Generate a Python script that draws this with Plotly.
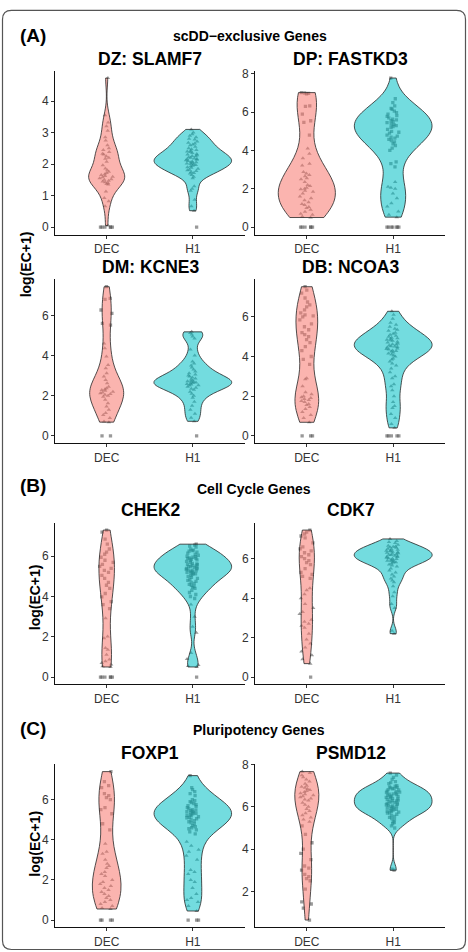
import numpy as np
import plotly.graph_objects as go

W, H = 468, 952
CATS = ["DEC", "H1"]

# ---------------- data (log(EC+1)) ----------------
# (A) scDD-exclusive genes
DZ_DEC_TRI = [4.73, 3.55, 3.32, 3.2, 3.06, 2.85, 2.75, 2.6, 2.5, 2.45, 2.38, 2.33, 2.3, 2.25, 2.2, 2.17, 2.07, 1.96,
              1.86, 1.8, 1.76, 1.72, 1.68, 1.65, 1.62, 1.6, 1.58, 1.55, 1.52, 1.5, 1.47, 1.45, 1.42, 1.4, 1.37, 1.35,
              1.13, 0.92, 0.82, 0.66, 0.05]
DZ_DEC_SQ = []
DZ_DEC_ZERO = [0, 0, 0, 0, 0, 0]
DZ_H1_TRI = [3.1, 3.0, 2.95, 2.9, 2.85, 2.8, 2.78, 2.72, 2.68, 2.65, 2.62, 2.6, 2.55, 2.5, 2.47, 2.45, 2.42, 2.4, 2.38,
             2.35, 2.32, 2.3, 2.28, 2.26, 2.25, 2.22, 2.2, 2.18, 2.16, 2.15, 2.14, 2.12, 2.1, 2.08, 2.06, 2.05, 2.04,
             2.02, 2.0, 1.99, 1.97, 1.95, 1.93, 1.9, 1.88, 1.85, 1.82, 1.8, 1.78, 1.75, 1.72, 1.7, 1.65, 1.6, 1.55,
             1.3, 1.22, 1.15, 0.87, 0.66, 0.52]
DZ_H1_SQ = []
DZ_H1_ZERO = [0]

DP_DEC_SQ = [7.02, 7.0, 6.98, 6.95, 6.33, 6.3, 5.9, 5.55, 5.47, 4.8]
DP_DEC_TRI = [4.1, 3.83, 3.6, 3.3, 3.22, 2.88, 2.8, 2.72, 2.65, 2.55, 2.5, 2.35, 2.2, 2.15, 2.05, 2.0, 1.98, 1.9,
              1.85, 1.75, 1.6, 1.5, 1.4, 1.3, 1.2, 1.15, 1.05, 1.0, 0.9, 0.8, 0.7, 0.64, 0.55, 0.5]
DP_DEC_ZERO = [0, 0, 0, 0, 0, 0]
DP_H1_SQ = [7.78, 6.7, 6.5, 6.33, 6.2, 6.15, 6.05, 5.98, 5.9, 5.82, 5.78, 5.7, 5.64, 5.6, 5.55, 5.5, 5.45, 5.38, 5.35,
            5.3, 5.25, 5.2, 5.1, 5.0, 4.95, 4.9, 4.8, 4.75, 4.69, 4.64, 4.58, 4.52, 4.45, 4.35, 4.26, 4.12, 4.0, 3.4,
            3.31, 3.14]
DP_H1_TRI = [2.36, 2.1, 2.05, 2.0, 1.76, 1.5, 1.24, 1.07, 0.81, 0.64, 0.52]
DP_H1_ZERO = [0, 0, 0, 0, 0, 0, 0]

DM_DEC_SQ = [7.43, 6.85, 6.8, 6.27, 6.1, 5.6, 5.52]
DM_DEC_TRI = [4.6, 4.36, 3.95, 3.53, 3.36, 3.12, 2.95, 2.78, 2.62, 2.45, 2.37, 2.32, 2.28, 2.25, 2.2, 2.16, 2.12, 2.08,
              2.04, 2.0, 1.95, 1.79, 1.62, 1.46, 1.3, 1.13, 1.04, 0.88, 0.71, 0.68]
DM_DEC_ZERO = [0, 0]
DM_H1_TRI = [5.18, 5.12, 5.05, 4.95, 4.85, 4.3, 4.0, 3.7, 3.6, 3.5, 3.4, 3.3, 3.2, 3.12, 3.05, 3.0, 2.95, 2.9, 2.85,
             2.8, 2.76, 2.72, 2.7, 2.68, 2.65, 2.63, 2.6, 2.58, 2.55, 2.52, 2.5, 2.45, 2.4, 2.35, 2.3, 2.2, 2.1, 2.0,
             1.9, 1.7, 1.5, 1.3, 1.1, 0.9, 0.72]
DM_H1_SQ = []
DM_H1_ZERO = [0]

DB_DEC_SQ = [7.52, 7.35, 7.2, 6.95, 6.75, 6.6, 6.5, 6.35, 6.2, 6.1, 6.05, 6.0, 5.85, 5.65, 5.5, 5.35, 5.2, 5.1, 5.0,
             4.85, 4.7, 4.5, 4.3, 4.0, 3.85, 3.6]
DB_DEC_TRI = [2.9, 2.85, 2.5, 2.2, 2.1, 2.0, 1.95, 1.9, 1.85, 1.8, 1.75, 1.7, 1.6, 1.55, 1.45, 1.35, 1.2, 1.05, 0.9,
              0.68]
DB_DEC_ZERO = [0, 0, 0]
DB_H1_TRI = [6.28, 6.1, 5.9, 5.7, 5.6, 5.5, 5.4, 5.35, 5.3, 5.2, 5.15, 5.1, 5.05, 5.0, 4.95, 4.92, 4.9, 4.85, 4.82,
             4.8, 4.75, 4.7, 4.65, 4.62, 4.6, 4.55, 4.52, 4.5, 4.48, 4.45, 4.4, 4.38, 4.35, 4.3, 4.28, 4.25, 4.2, 4.15,
             4.1, 4.05, 4.0, 3.9, 3.85, 3.75, 3.65, 3.55, 3.4, 3.2, 3.0, 2.9, 2.6, 2.5, 2.3, 2.0, 1.7, 1.5, 1.4, 1.1,
             0.9, 0.6, 0.4]
DB_H1_SQ = []
DB_H1_ZERO = [0, 0, 0, 0, 0]

# (B) cell cycle genes
CHEK2_DEC_SQ = [7.3, 7.2, 6.85, 6.6, 6.36, 6.2, 6.1, 5.95, 5.8, 5.7, 5.6, 5.5, 5.4, 5.3, 5.2, 5.05, 4.9, 4.7, 4.56,
                4.4, 4.15, 3.98, 3.75, 3.6, 3.4]
CHEK2_DEC_TRI = [2.92, 2.02, 1.93, 1.44, 1.36, 1.11, 0.87, 0.79, 0.7, 0.62, 0.54, 0.5]
CHEK2_DEC_ZERO = [0, 0, 0, 0, 0, 0]
CHEK2_H1_SQ = [6.6, 6.55, 6.5, 6.45, 6.35, 6.3, 6.28, 6.25, 6.2, 6.15, 6.1, 6.05, 6.0, 5.98, 5.95, 5.92, 5.9, 5.88,
               5.85, 5.82, 5.8, 5.75, 5.7, 5.65, 5.62, 5.6, 5.58, 5.55, 5.52, 5.5, 5.48, 5.45, 5.42, 5.4, 5.38, 5.35,
               5.32, 5.3, 5.28, 5.25, 5.22, 5.2, 5.18, 5.15, 5.12, 5.1, 5.05, 5.0, 4.95, 4.9, 4.85, 4.8, 4.75, 4.7,
               4.65, 4.6, 4.55, 4.5, 4.45, 4.4, 4.3, 4.2, 4.1, 4.0, 3.9]
CHEK2_H1_TRI = [3.6, 3.0, 2.5, 2.2, 1.2, 0.9, 0.6, 0.55, 0.5]
CHEK2_H1_ZERO = [0]

CDK7_DEC_SQ = [7.45, 7.35, 7.25, 7.15, 7.05, 6.8, 6.6, 6.5, 6.4, 6.3, 6.2, 6.1, 6.0, 5.9, 5.8, 5.7, 5.5, 5.3, 5.2,
               5.1, 5.0]
CDK7_DEC_TRI = [4.5, 4.4, 4.2, 4.0, 3.7, 3.5, 3.3, 3.2, 2.9, 2.8, 2.7, 2.6, 2.5, 2.2, 1.9, 1.7, 1.5, 1.3, 1.1, 0.9,
                0.68]
CDK7_DEC_ZERO = [0]
CDK7_H1_TRI = [7.0, 6.9, 6.85, 6.8, 6.7, 6.65, 6.62, 6.6, 6.58, 6.55, 6.5, 6.48, 6.45, 6.42, 6.4, 6.38, 6.35, 6.32,
               6.3, 6.28, 6.25, 6.22, 6.2, 6.18, 6.15, 6.12, 6.1, 6.08, 6.05, 6.02, 6.0, 5.98, 5.95, 5.92, 5.9, 5.88,
               5.85, 5.82, 5.8, 5.75, 5.7, 5.65, 5.6, 5.5, 5.4, 5.3, 5.2, 5.1, 5.0, 4.9, 4.8, 4.6, 4.3, 4.1, 3.7, 3.5,
               2.35, 2.2]
CDK7_H1_SQ = []
CDK7_H1_ZERO = []

# (C) pluripotency genes
FOXP1_DEC_SQ = [7.4, 6.9, 6.7, 6.6, 6.3, 6.2, 6.1, 6.0, 5.6, 5.5, 5.3, 4.8, 4.5]
FOXP1_DEC_TRI = [3.8, 3.4, 3.3, 3.0, 2.8, 2.7, 2.6, 2.4, 2.3, 2.2, 2.0, 1.9, 1.8, 1.7, 1.6, 1.5, 1.4, 1.3, 1.2, 1.1,
                 1.0, 0.9, 0.8, 0.7, 0.6, 0.55]
FOXP1_DEC_ZERO = [0, 0, 0, 0]
FOXP1_H1_SQ = [7.2, 6.6, 6.5, 6.4, 6.3, 6.2, 6.0, 5.95, 5.9, 5.85, 5.8, 5.75, 5.7, 5.65, 5.6, 5.55, 5.5, 5.48, 5.45,
               5.42, 5.4, 5.38, 5.35, 5.32, 5.3, 5.25, 5.22, 5.2, 5.15, 5.12, 5.1, 5.05, 5.0, 4.95, 4.9, 4.85, 4.8,
               4.7, 4.65, 4.6, 4.55, 4.5, 4.4, 4.3]
FOXP1_H1_TRI = [3.9, 3.7, 3.5, 3.4, 3.2, 3.0, 2.5, 2.4, 2.3, 2.0, 1.9, 1.6, 1.3, 1.1, 1.0, 0.9, 0.7, 0.45]
FOXP1_H1_ZERO = [0, 0, 0]

PSMD12_DEC_TRI = [7.67, 7.6, 7.5, 7.4, 7.3, 7.2, 7.1, 7.0, 6.95, 6.9, 6.85, 6.8, 6.75, 6.7, 6.65, 6.6, 6.55, 6.5,
                  6.45, 6.4, 6.35, 6.3, 6.2, 6.1, 6.0, 5.9, 5.8, 5.7, 5.6, 5.5, 5.4, 5.3]
PSMD12_DEC_SQ = [5.1, 4.7, 4.3, 4.0, 3.8, 3.5, 3.2, 3.1, 3.0, 2.8, 2.7, 2.6, 2.5, 2.1, 1.5, 1.4, 1.2, 0.64]
PSMD12_DEC_ZERO = []
PSMD12_H1_SQ = [7.6, 7.5, 7.4, 7.3, 7.2, 7.15, 7.1, 7.0, 6.98, 6.95, 6.92, 6.9, 6.88, 6.85, 6.82, 6.8, 6.75, 6.72,
                6.7, 6.68, 6.65, 6.62, 6.6, 6.58, 6.55, 6.52, 6.5, 6.48, 6.45, 6.42, 6.4, 6.38, 6.35, 6.32, 6.3, 6.28,
                6.25, 6.22, 6.2, 6.18, 6.15, 6.12, 6.1, 6.08, 6.05, 6.02, 6.0, 5.98, 5.95, 5.92, 5.9, 5.88, 5.85,
                5.82, 5.8, 5.78, 5.75, 5.72, 5.7, 5.65, 5.6, 5.55, 5.5, 5.45, 5.4, 5.3, 5.25, 5.2, 5.1, 5.0, 3.05,
                3.0]
PSMD12_H1_TRI = []
PSMD12_H1_ZERO = []

PANEL_TITLES = ["DZ: SLAMF7", "DP: FASTKD3", "DM: KCNE3", "DB: NCOA3", "CHEK2", "CDK7", "FOXP1", "PSMD12"]
PANEL_DATA = [
    {"DEC": (DZ_DEC_TRI, DZ_DEC_SQ, DZ_DEC_ZERO), "H1": (DZ_H1_TRI, DZ_H1_SQ, DZ_H1_ZERO)},
    {"DEC": (DP_DEC_TRI, DP_DEC_SQ, DP_DEC_ZERO), "H1": (DP_H1_TRI, DP_H1_SQ, DP_H1_ZERO)},
    {"DEC": (DM_DEC_TRI, DM_DEC_SQ, DM_DEC_ZERO), "H1": (DM_H1_TRI, DM_H1_SQ, DM_H1_ZERO)},
    {"DEC": (DB_DEC_TRI, DB_DEC_SQ, DB_DEC_ZERO), "H1": (DB_H1_TRI, DB_H1_SQ, DB_H1_ZERO)},
    {"DEC": (CHEK2_DEC_TRI, CHEK2_DEC_SQ, CHEK2_DEC_ZERO), "H1": (CHEK2_H1_TRI, CHEK2_H1_SQ, CHEK2_H1_ZERO)},
    {"DEC": (CDK7_DEC_TRI, CDK7_DEC_SQ, CDK7_DEC_ZERO), "H1": (CDK7_H1_TRI, CDK7_H1_SQ, CDK7_H1_ZERO)},
    {"DEC": (FOXP1_DEC_TRI, FOXP1_DEC_SQ, FOXP1_DEC_ZERO), "H1": (FOXP1_H1_TRI, FOXP1_H1_SQ, FOXP1_H1_ZERO)},
    {"DEC": (PSMD12_DEC_TRI, PSMD12_DEC_SQ, PSMD12_DEC_ZERO), "H1": (PSMD12_H1_TRI, PSMD12_H1_SQ, PSMD12_H1_ZERO)},
]
Y_TICKS = [[0, 1, 2, 3, 4], [0, 2, 4, 6, 8], [0, 2, 4, 6], [0, 2, 4, 6],
           [0, 2, 4, 6], [0, 2, 4, 6], [0, 2, 4, 6], [2, 4, 6, 8]]
SECTION_LABELS = ["(A)", "(B)", "(C)"]
SECTION_TITLES = ["scDD\u2212exclusive Genes", "Cell Cycle Genes", "Pluripotency Genes"]
Y_TITLE = "log(EC+1)"

# ---------------- layout (pixel geometry) ----------------
PANEL_BOX = [(55, 244.5, 65, 230), (255, 445, 65, 230),
             (55, 244.5, 275, 440), (255, 445, 275, 440),
             (55, 244.5, 520, 682.7), (255, 445, 520, 682.7),
             (55, 244.5, 763, 927.3), (255, 445, 763, 927.3)]
TITLE_POS = [(150, 53), (350.5, 53), (150, 263), (350.5, 263),
             (150.5, 507), (351, 507), (150, 752), (351, 752)]
LABEL_POS = [(33, 30), (33, 483), (33, 727)]
SECTION_POS = [(250, 30), (254, 486), (259, 729)]
YTITLE_POS = [(26, 260), (35, 595), (35, 843)]

FONT = "Liberation Sans, Arial, Helvetica, sans-serif"
FILL = {"DEC": "rgba(248,118,109,0.55)", "H1": "rgba(0,191,196,0.55)"}
PT_COLOR = "rgba(85,85,85,0.6)"
VIOLIN_WIDTH = 0.9


def nrd0(v):
    """R's default bandwidth (bw.nrd0)."""
    v = np.asarray(v, dtype=float)
    sd = v.std(ddof=1)
    q75, q25 = np.percentile(v, [75, 25])
    lo = min(sd, (q75 - q25) / 1.34)
    if lo <= 0:
        lo = sd if sd > 0 else 0.1
    return 0.9 * lo * len(v) ** (-0.2)


def kde_peak(v, bw):
    """Peak of the gaussian KDE over the (trimmed) data range."""
    v = np.asarray(v, dtype=float)
    g = np.linspace(v.min(), v.max(), 512)
    d = np.exp(-0.5 * ((g[:, None] - v[None, :]) / bw) ** 2).sum(axis=1)
    return d.max() / (len(v) * bw * np.sqrt(2 * np.pi))


fig = go.Figure()
layout = dict()
gid = 0
for i, groups in enumerate(PANEL_DATA):
    ax = "" if i == 0 else str(i + 1)
    xa, ya = "x" + ax, "y" + ax
    allv = []
    # jittered points (drawn first so the translucent violins tint them)
    for cat in CATS:
        tri, sq, zero = groups[cat]
        allv += list(tri) + list(sq) + list(zero)
        for vals, sym, sz in ((zero, "square", 3.3), (tri, "triangle-up", 4.0), (sq, "square", 3.3)):
            if len(vals) == 0:
                continue
            gid += 1
            fig.add_trace(go.Violin(
                x=[cat] * len(vals), y=vals, xaxis=xa, yaxis=ya,
                points="all", pointpos=0, jitter=0.85, width=0.2,
                bandwidth=0.1, spanmode="soft", scalegroup="pts%d" % gid, name="pts%d" % gid,
                fillcolor="rgba(0,0,0,0)", line=dict(width=0, color="rgba(0,0,0,0)"),
                marker=dict(symbol=sym, size=sz, color=PT_COLOR, line=dict(width=0)),
                hoverinfo="skip", showlegend=False))
    # violins of the non-zero values; widths follow ggplot's scale="count" within a panel
    nzs, bws, peaks = {}, {}, {}
    for cat in CATS:
        tri, sq, zero = groups[cat]
        nzs[cat] = list(tri) + list(sq)
        bws[cat] = nrd0(nzs[cat])
        peaks[cat] = kde_peak(nzs[cat], bws[cat]) * len(nzs[cat])
    pmax = max(peaks.values())
    for cat in CATS:
        nz = nzs[cat]
        fig.add_trace(go.Violin(
            x=[cat] * len(nz), y=nz, xaxis=xa, yaxis=ya,
            points=False, width=VIOLIN_WIDTH * peaks[cat] / pmax, spanmode="hard",
            scalegroup="v%d%s" % (i, cat), scalemode="width", name="v%d%s" % (i, cat),
            bandwidth=bws[cat], fillcolor=FILL[cat],
            line=dict(color="#262626", width=0.8),
            hoverinfo="skip", showlegend=False))

    x0, x1, y0, y1 = PANEL_BOX[i]
    lo, hi = min(allv), max(allv)
    pad = 0.05 * (hi - lo)
    layout["xaxis" + ax] = dict(
        domain=[x0 / W, x1 / W], anchor=ya, type="category",
        categoryorder="array", categoryarray=CATS, range=[-0.6, 1.6],
        showline=True, linecolor="#111", linewidth=1, mirror=False,
        ticks="outside", ticklen=3, tickwidth=1, tickcolor="#333",
        tickfont=dict(family=FONT, size=12, color="#333"),
        showgrid=False, zeroline=False, fixedrange=True)
    layout["yaxis" + ax] = dict(
        domain=[1 - y1 / H, 1 - y0 / H], anchor=xa,
        range=[lo - pad, hi + pad], tickmode="array", tickvals=Y_TICKS[i],
        showline=True, linecolor="#111", linewidth=1,
        ticks="outside", ticklen=3, tickwidth=1, tickcolor="#333",
        tickfont=dict(family=FONT, size=12, color="#333"),
        showgrid=False, zeroline=False, fixedrange=True)

ann = []
for t, (px, py) in zip(PANEL_TITLES, TITLE_POS):
    ann.append(dict(text="<b>%s</b>" % t, x=px / W, y=1 - py / H, xref="paper", yref="paper",
                    xanchor="center", yanchor="middle", showarrow=False,
                    font=dict(family=FONT, size=17.5, color="black")))
for t, (px, py) in zip(SECTION_LABELS, LABEL_POS):
    ann.append(dict(text="<b>%s</b>" % t, x=px / W, y=1 - py / H, xref="paper", yref="paper",
                    xanchor="center", yanchor="middle", showarrow=False,
                    font=dict(family=FONT, size=19, color="black")))
for t, (px, py) in zip(SECTION_TITLES, SECTION_POS):
    ann.append(dict(text="<b>%s</b>" % t, x=px / W, y=1 - py / H, xref="paper", yref="paper",
                    xanchor="center", yanchor="middle", showarrow=False,
                    font=dict(family=FONT, size=14, color="black")))
for (px, py) in YTITLE_POS:
    ann.append(dict(text="<b>%s</b>" % Y_TITLE, x=px / W, y=1 - py / H, xref="paper", yref="paper",
                    xanchor="center", yanchor="middle", showarrow=False, textangle=-90,
                    font=dict(family=FONT, size=14, color="black")))

# rounded outer frame
bx0, bx1, by0, by1, r = 2.5, 465.5, 4.5, 949.5, 9


def P(px, py):
    return "%.5f,%.5f" % (px / W, 1 - py / H)


frame = ("M " + P(bx0 + r, by0) + " L " + P(bx1 - r, by0) + " Q " + P(bx1, by0) + " " + P(bx1, by0 + r) +
         " L " + P(bx1, by1 - r) + " Q " + P(bx1, by1) + " " + P(bx1 - r, by1) +
         " L " + P(bx0 + r, by1) + " Q " + P(bx0, by1) + " " + P(bx0, by1 - r) +
         " L " + P(bx0, by0 + r) + " Q " + P(bx0, by0) + " " + P(bx0 + r, by0) + " Z")

fig.update_layout(
    width=W, height=H, margin=dict(l=0, r=0, t=0, b=0),
    paper_bgcolor="white", plot_bgcolor="white", showlegend=False,
    violinmode="overlay", font=dict(family=FONT),
    annotations=ann,
    shapes=[dict(type="path", path=frame, xref="paper", yref="paper",
                 line=dict(color="#555", width=1.2), fillcolor="rgba(0,0,0,0)", layer="above")],
    **layout)

fig.write_html("out.html")
